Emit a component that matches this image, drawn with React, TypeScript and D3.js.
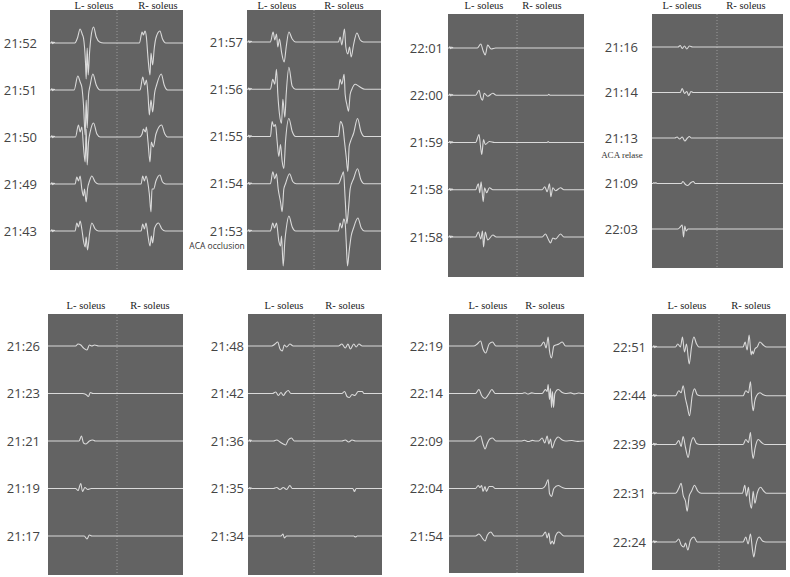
import React from 'react';
import * as d3 from 'd3';

type Pt = [number, number];

// time stamps (row labels) for each panel, top to bottom
const times1 = ['21:52', '21:51', '21:50', '21:49', '21:43'];
const times2 = ['21:57', '21:56', '21:55', '21:54', '21:53'];
const times3 = ['22:01', '22:00', '21:59', '21:58', '21:58'];
const times4 = ['21:16', '21:14', '21:13', '21:09', '22:03'];
const times5 = ['21:26', '21:23', '21:21', '21:19', '21:17'];
const times6 = ['21:48', '21:42', '21:36', '21:35', '21:34'];
const times7 = ['22:19', '22:14', '22:09', '22:04', '21:54'];
const times8 = ['22:51', '22:44', '22:39', '22:31', '22:24'];

const muscles = ['L- soleus', 'R- soleus'];

// waveform keypoints: [time 0-100 across one half, amplitude]
const edgeNoise: Pt[] = [[1.5, 0], [2.5, 1.2], [3.5, -0.6], [4.5, 1], [5.5, -0.4], [6.5, 0.6], [7.5, 0]];

const left1: Pt[][] = [
  [[37, 0], [41, 5], [45, 14], [48, 9], [50, 5], [53, -20], [54, -36], [55.5, -5], [57, -32], [59, -10], [61, 5], [65, 16], [69, 6], [74, 1], [80, 0]],
  [[36, 0], [41.5, 14], [45, 8], [47.5, 3], [50, -15], [52.5, -45], [54, -10], [55.5, -38], [57.5, -5], [60, 5], [64, 16], [69, 5], [75, 0]],
  [[38, 0], [42.5, 12], [45, 5], [47.5, 10], [50, -10], [52.5, -25], [54, 8], [55.5, -28], [57.5, -5], [60, 5], [65, 14], [70, 3], [75, 0]],
  [[37.5, 0], [40, 7], [42.5, 3], [45, 8], [47.5, -5], [50, -12], [51.5, -5], [54, -18], [56, -5], [59, 3], [62.5, 8], [67.5, 2], [72.5, 0]],
  [[37.5, 0], [40, 8], [42.5, 4], [45, 10], [47.5, 2], [50, -10], [52.5, -16], [54, -6], [56, -19], [59, -3], [62.5, 8], [67.5, 2], [72.5, 0]],
];
const right1: Pt[][] = [
  [[34, 0], [38, 11], [40, 8], [42.5, 12], [44.5, 6], [47, -15], [50, -32], [51.5, -10], [54, -22], [56.5, -5], [59, 5], [65, 12], [69, 4], [74, 0]],
  [[35, 0], [39, 13], [42, 5], [44.5, 10], [47, -5], [49, -25], [51.5, -10], [54, -22], [57, -3], [60, 5], [67, 16], [71.5, 5], [76.5, 0]],
  [[34, 0], [38, 3], [40, 8], [43, 5], [44.5, 10], [47, -5], [50, -25], [52, -5], [55, -10], [59, 3], [67.5, 12], [72.5, 3], [76.5, 0]],
  [[36.5, 0], [39, 8], [41.5, 3], [44, 8], [46.5, 2], [49, -10], [51.5, -28], [53, -5], [55.5, -5], [59, 3], [65, 9], [69, 2], [74, 0]],
  [[36.5, 0], [39, 7], [41.5, 2], [44, 8], [47, -5], [50, -15], [52, -5], [54, -12], [57, 3], [63, 8], [68, 2], [73, 0]],
];

const left2: Pt[][] = [
  [[35, 0], [39, 10], [41.5, 2], [44, 8], [46, -5], [48.5, 3], [51.5, -10], [55.5, -20], [58.5, -5], [62.5, 10], [67.5, 3], [72.5, 0]],
  [[35, 0], [38.5, 10], [41.5, 5], [44, 20], [46, -5], [48.5, -25], [51.5, -34], [53.5, -10], [56.5, -28], [58.5, -5], [62.5, 22], [67.5, 3], [72.5, 0]],
  [[35, 0], [37.5, 15], [40, 10], [42.5, 12], [45, -5], [47.5, -20], [50, -8], [52.5, -25], [55, -32], [57.5, -5], [62.5, 18], [67.5, 5], [72.5, 0]],
  [[35, 0], [38.5, 12], [41.5, 5], [44, 10], [46.5, -5], [50, -18], [52.5, -28], [55, -5], [57.5, 0], [63.5, 10], [68.5, 2], [73.5, 0]],
  [[35, 0], [38.5, 8], [41, 3], [44, 8], [47.5, -10], [50, -15], [51.5, -5], [54, -35], [56.5, -10], [58.5, 2], [62.5, 15], [67.5, 4], [72.5, 0]],
];
const right2: Pt[][] = [
  [[36.5, 0], [39, 5], [41.5, -3], [45.5, 13], [47.5, -5], [50.5, -12], [53, -5], [55.5, -15], [59, -3], [64, 9], [69, 2], [74, 0]],
  [[36.5, 0], [39, 10], [41.5, 5], [45, 15], [46.5, -5], [49, -15], [51.5, -22], [54, -5], [56.5, 0], [61.5, 5], [67, 3], [76, 0]],
  [[36.5, 0], [39.5, 15], [43, 10], [45.5, -5], [48, -20], [50.5, -35], [52.5, -10], [54.5, -5], [59, 3], [65, 18], [70, 5], [75, 0]],
  [[36.5, 0], [41.5, 8], [44, 12], [46.5, -15], [49, -40], [51.5, -25], [54, -5], [59, 5], [65, 15], [70, 4], [75, 0]],
  [[36.5, 0], [39, 8], [41.5, 3], [44.5, 12], [46.5, 8], [48, -10], [50, -35], [52.5, -20], [55.5, -5], [59, 3], [65.5, 13], [70.5, 3], [75.5, 0]],
];

const left3: Pt[][] = [
  [[42.5, 0], [47.5, 4], [51, -3], [54, -7], [57.5, 3], [62.5, -1], [69, 0]],
  [[40, 0], [45, 5], [47.5, -2], [50, -5], [52.5, 2], [57.5, -1], [65, 2], [70, 0]],
  [[40, 0], [45, 8], [47, -3], [49, -12], [51.5, 3], [54, -2], [60, 1], [67.5, 0]],
  [[40, 0], [44, 6], [46, -3], [48, 8], [51, -12], [53, 2], [56, -3], [60, 2], [65, 0]],
  [[40, 0], [44, 5], [47.5, -2], [50, 6], [51.5, -10], [54, 5], [57.5, -3], [65, 2], [70, 0]],
];
const right3: Pt[][] = [
  [],
  [[46, 0], [47.5, 1], [49, 0]],
  [[45, 0], [46.5, 1], [48, 0]],
  [[37.5, 0], [41.5, 3], [45, -2], [48.5, 6], [50.5, -7], [53.5, 2], [57.5, -1], [65, 2], [70, 0]],
  [[37.5, 0], [42.5, 3], [46.5, -2], [50, -6], [53.5, -1], [57.5, -2], [65, 3], [70, 0]],
];

const left4: Pt[][] = [
  [[40, 0], [43.5, 1.5], [46.5, -1.5], [50, 1], [53.5, -2], [57.5, 1], [62.5, 0]],
  [[43.5, 0], [46.5, 4], [50, -1], [53.5, 1], [56.5, -3], [60, 1], [63.5, 0]],
  [[35, 0], [38.5, 1], [42.5, -1], [46.5, 1], [50.5, -3], [54.5, 0], [57.5, 1.5], [60.5, 0]],
  [[1.5, 0], [3, 1], [4.5, 0], [6, 1], [7.5, 0], [45, 0], [47.5, 2], [51.5, -1], [55, -2], [60, 1], [63.5, 2], [66.5, 0]],
  [[40, 0], [43.5, 2], [46.5, 4], [48.5, -8], [50.5, 3], [52.5, -2], [55.5, 0]],
];
const right4: Pt[][] = [[], [], [], [], []];

const left5: Pt[][] = [
  [[40, 0], [43.5, 2], [47.5, 1], [51.5, -2], [56.5, -4], [60, 1], [63.5, 0], [67.5, 1], [73.5, 0]],
  [[50, 0], [55, -1], [58.5, -3], [61.5, 1], [65, 0]],
  [[45, 0], [48.5, 5], [51.5, -2], [55, -3], [60, 0], [65, 1], [68.5, 0]],
  [[40, 0], [43.5, -2], [47.5, 5], [50, -3], [53.5, 1], [57.5, -1], [62.5, 0]],
  [[52.5, 0], [56.5, -3], [60, 1], [63.5, 0]],
];
const right5: Pt[][] = [[], [], [], [], []];

const left6: Pt[][] = [
  [[36, 0], [41, 2], [45, 4], [48.5, -3], [52, -5], [55, 1], [58.5, -1], [63.5, 2], [68.5, 0]],
  [[37, 0], [42, 1.5], [46, -2], [50, 1], [53.5, -2], [57, 1], [61, 3], [65, 0]],
  [[1.5, 0], [2.5, 1.2], [3.5, -0.6], [4.5, 1], [5.5, 0], [38.5, 0], [43.5, 1], [48.5, -1], [53.5, -3], [57, -4], [61, 1], [66, 3], [70, 0]],
  [[1.5, 0], [2.5, 1], [3.5, -0.5], [4.5, 0.8], [5.5, 0], [38.5, 0], [43.5, 1], [48.5, -1], [53.5, 1], [58.5, -1], [63.5, 3], [67, 0]],
  [[50, 0], [53, 2], [55, -2], [58.5, 0]],
];
const right6: Pt[][] = [
  [[36, 0], [41, 2], [46, -2], [50, 2], [53.5, -3], [58.5, 2], [62, -1], [66, 2], [71, 0]],
  [[41, 0], [45, 2], [48.5, -3], [52, -4], [56, -1], [60, -2], [65, 2], [71, 2], [73.5, 0]],
  [[41, 0], [46, 1], [51, -1], [56, 1], [61, 0]],
  [[57, 0], [59.5, -3], [62, 0]],
  [[58.5, 0], [61, -1], [63.5, 0]],
];

const left7: Pt[][] = [
  [[36.5, 0], [41.5, 2], [46.5, 5], [50, -3], [54, -7], [59, 2], [64, 4], [69, 0]],
  [[39, 0], [44, 4], [48, -2], [53, -5], [59, 0], [63, 4], [68, 0]],
  [[36.5, 0], [41.5, 3], [46.5, 5], [50, -3], [53, -8], [56.5, -2], [60, 2], [64, 3], [69, 0]],
  [[39, 0], [43, 3], [45.5, 1], [48, 3], [50, -3], [53, 2], [55, -3], [59, 2], [64, 2], [68, 0]],
  [[39, 0], [44, 2], [48, -1], [50, -3], [53, -5], [56.5, 1], [61.5, 4], [66.5, 0]],
];
const right7: Pt[][] = [
  [[35, 0], [40, 4], [43.5, -2], [46.5, 9], [48.5, -5], [51.5, -12], [55, 0], [62.5, 2], [67.5, 4], [72.5, 0]],
  [[8, 0], [12, 0.8], [16, -0.5], [22, 0.6], [28, 0], [37.5, 0], [42.5, 4], [45, 2], [46.5, 9], [48.5, -6], [50, 5], [51.5, -14], [53, 2], [54.5, -14], [56.5, 0], [61.5, 4], [67.5, 1], [72.5, 0], [80, 0.6], [86, -0.4], [92, 0.5], [97, 0]],
  [[6, 0], [11, 0.7], [17, -0.5], [23, 0.6], [28, 0], [32.5, 0], [37.5, 3], [41.5, -2], [45, 5], [47.5, -3], [50, 2], [52.5, -7], [56.5, 0], [61.5, 4], [67.5, 1], [72.5, 0], [82, 0.5], [90, -0.4], [97, 0]],
  [[37.5, 0], [42.5, 3], [46.5, 9], [48.5, -5], [51.5, -8], [55, 0], [61.5, 3], [67.5, 1], [72.5, 0]],
  [[37.5, 0], [42.5, 4], [45, -2], [47.5, 3], [50, -8], [52.5, -5], [55, -8], [57.5, 0], [62.5, 4], [70, 0]],
];

const left8: Pt[][] = [
  [[35, 0], [38.5, 3], [42.5, 0], [45.5, 10], [48.5, -5], [51.5, 3], [55.5, -17], [59, 0], [62.5, 10], [66.5, 3], [70, 0]],
  [[35, 0], [40, 5], [43.5, 3], [46.5, 10], [50, -3], [52.5, -10], [56, -20], [60, 0], [63.5, 7], [67.5, 1], [72.5, 0]],
  [[35, 0], [40, 4], [43.5, -2], [46.5, 8], [50, -3], [54, -13], [57.5, 0], [61.5, 7], [66.5, 1], [71.5, 0]],
  [[35, 0], [40, 5], [43.5, 10], [46.5, -2], [50, -8], [52.5, -18], [55.5, -3], [59, 2], [63.5, 8], [68.5, 2], [73.5, 0]],
  [[35, 0], [40, 3], [43.5, -3], [47.5, -5], [50, -1], [53.5, -8], [57.5, 2], [62.5, 5], [67.5, 0]],
];
const right8: Pt[][] = [
  [[36, 0], [39, 5], [42, -3], [45, 12], [48, -8], [49.5, -4], [51, -7], [53.5, -2], [57, 0], [61, 5], [66, 2], [71, 0]],
  [[36, 0], [40, 5], [44, 3], [47, 14], [49, -5], [51, -15], [53.5, -5], [56, 0], [61, 3], [66, 1], [71, 0]],
  [[36, 0], [40, 5], [44, 2], [47, 12], [49, -5], [51, -14], [54, -3], [58.5, 5], [63.5, 2], [68.5, 0]],
  [[35, 0], [38.5, 8], [41, -3], [44, 6], [46, -8], [48.5, -15], [51, 2], [53.5, -10], [57, 0], [62, 6], [67, 2], [71, 0]],
  [[36, 0], [40, 5], [43.5, -2], [47, 8], [50, -8], [52, -15], [55, -3], [60, 5], [65, 1], [70, 0]],
];

const panelData = [
  { times: times1, left: left1, right: right1, noise: true },
  { times: times2, left: left2, right: right2, noise: true },
  { times: times3, left: left3, right: right3, noise: true },
  { times: times4, left: left4, right: right4, noise: false },
  { times: times5, left: left5, right: right5, noise: false },
  { times: times6, left: left6, right: right6, noise: false },
  { times: times7, left: left7, right: right7, noise: false },
  { times: times8, left: left8, right: right8, noise: true },
];

// panel placement on the page
const layout = [
  { x: 50, y: 10, w: 133, h: 260, div: 117, r0: 43, r1: 231, lx: 37, hl: 94, hr: 158, hy: 9 },
  { x: 247, y: 10, w: 134, h: 260, div: 314, r0: 42, r1: 231, lx: 243, hl: 277, hr: 344, hy: 9 },
  { x: 448, y: 14, w: 136, h: 263, div: 517, r0: 48, r1: 237, lx: 443, hl: 484, hr: 542, hy: 9 },
  { x: 652, y: 14, w: 131, h: 254, div: 717, r0: 47, r1: 229, lx: 638, hl: 682, hr: 746, hy: 9 },
  { x: 48, y: 314, w: 135, h: 261, div: 117, r0: 346, r1: 536, lx: 40, hl: 86, hr: 150, hy: 309 },
  { x: 248, y: 314, w: 134, h: 261, div: 314, r0: 346, r1: 536, lx: 244, hl: 284, hr: 345, hy: 309 },
  { x: 449, y: 314, w: 135, h: 259, div: 517, r0: 346, r1: 536, lx: 443, hl: 488, hr: 545, hy: 309 },
  { x: 652, y: 314, w: 134, h: 256, div: 719, r0: 347, r1: 542, lx: 646, hl: 687, hr: 751, hy: 309 },
];

const notes = [
  { panel: 1, row: 4, text: 'ACA occlusion', serif: false, cx: 217, dy: 15 },
  { panel: 3, row: 2, text: 'ACA relase', serif: true, cx: 622, dy: 17 },
];

const amp = d3.scaleLinear().domain([-50, 50]).range([50, -50]);

function Panel({ idx }: { idx: number }) {
  const L = layout[idx];
  const P = panelData[idx];
  const rowY = d3.scalePoint<number>().domain(d3.range(P.times.length)).range([L.r0, L.r1]);
  const xl = d3.scaleLinear().domain([0, 100]).range([L.x, L.div]);
  const xr = d3.scaleLinear().domain([0, 100]).range([L.div, L.x + L.w]);
  const mk = (sc: d3.ScaleLinear<number, number>) =>
    d3.line<Pt>().x(d => sc(d[0])).y(d => amp(d[1])).curve(d3.curveMonotoneX);
  const lineL = mk(xl);
  const lineR = mk(xr);
  const full = (pts: Pt[], noise: boolean): Pt[] => [[0, 0], ...(noise ? edgeNoise : []), ...pts, [100, 0]];
  return (
    <g>
      <rect x={L.x} y={L.y} width={L.w} height={L.h} fill="#636363" />
      <line x1={L.div} x2={L.div} y1={L.y} y2={L.y + L.h} stroke="#a9a9a9" strokeWidth={0.8} strokeDasharray="1,2" />
      <text x={L.hl} y={L.hy} textAnchor="middle" fontFamily="'Liberation Serif', serif" fontSize={10.5} fill="#222">{muscles[0]}</text>
      <text x={L.hr} y={L.hy} textAnchor="middle" fontFamily="'Liberation Serif', serif" fontSize={10.5} fill="#222">{muscles[1]}</text>
      {P.times.map((t, i) => {
        const y = rowY(i) as number;
        return (
          <g key={i}>
            <text x={L.lx} y={y} dy="0.35em" textAnchor="end" fontFamily="'Open Sans', sans-serif" fontSize={13} fill="#444">{t}</text>
            <g transform={`translate(0,${y})`}>
              <path d={lineL(full(P.left[i], P.noise)) || ''} fill="none" stroke="#dadada" strokeWidth={1.1} strokeLinejoin="round" />
              <path d={lineR(full(P.right[i], false)) || ''} fill="none" stroke="#dadada" strokeWidth={1.1} strokeLinejoin="round" />
            </g>
          </g>
        );
      })}
      {notes.filter(n => n.panel === idx).map((n, k) => (
        <text key={k} x={n.cx} y={(rowY(n.row) as number) + n.dy} dy="0.35em" textAnchor="middle"
          fontFamily={n.serif ? "'Liberation Serif', serif" : "'Open Sans', sans-serif"}
          fontSize={n.serif ? 9 : 8.5} fill="#333">{n.text}</text>
      ))}
    </g>
  );
}

export default function App() {
  return (
    <svg width={790} height={577} style={{ position: 'absolute', left: 0, top: 0, background: '#fff' }}>
      {layout.map((_, i) => <Panel key={i} idx={i} />)}
    </svg>
  );
}
